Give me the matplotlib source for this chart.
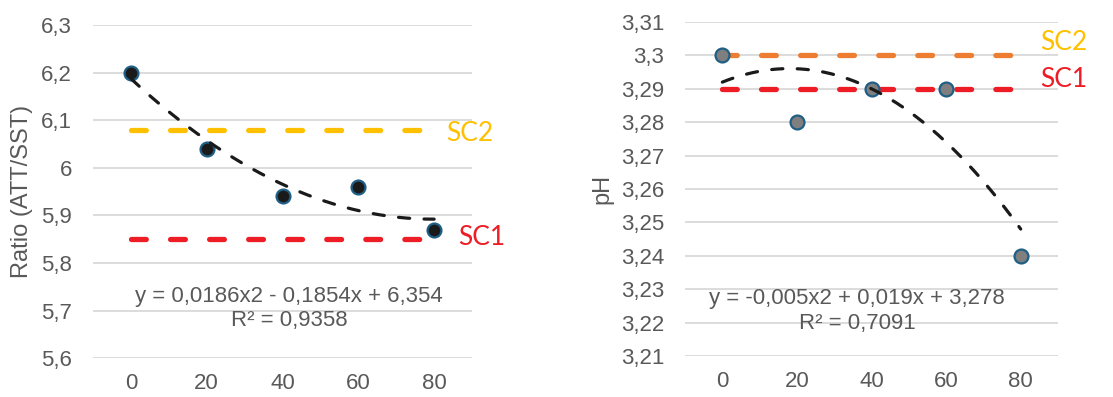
import numpy as np
import matplotlib
matplotlib.use("Agg")
import matplotlib.pyplot as plt
from matplotlib.ticker import FuncFormatter

plt.rcParams['font.family'] = ['Liberation Sans', 'DejaVu Sans']

days = [0, 20, 40, 60, 80]

ratio = [6.20, 6.04, 5.94, 5.96, 5.87]
ratio_fit = [0.0186, -0.1854, 6.354]
ratio_r2 = "0,9358"
ratio_sc1 = 5.85
ratio_sc2 = 6.08

ph = [3.30, 3.28, 3.29, 3.29, 3.24]
ph_fit = [-0.005, 0.019, 3.278]
ph_r2 = "0,7091"
ph_sc1 = 3.29
ph_sc2 = 3.30

GREY = "#595959"
GRID = "#D9D9D9"
RED = "#EE1C25"
YELLOW = "#FFC000"
ORANGE = "#ED7D31"
EDGE = "#1F5F86"


def comma(v, pos):
    s = f"{v:.2f}".rstrip("0").rstrip(".")
    return s.replace(".", ",")


def fmt_coef(c):
    return f"{c:g}".replace(".", ",")


def panel(ax, y, fit, r2, sc1, sc2, sc2_line, face, ylim, step, ylabel,
          label_x, eq_pos, sc_lab):
    ax.set_xlim(-10, 90)
    ax.set_ylim(*ylim)
    ax.set_yticks(np.arange(ylim[0], ylim[1] + step / 2, step))
    ax.set_xticks(days)
    ax.yaxis.set_major_formatter(FuncFormatter(comma))
    for s in ax.spines.values():
        s.set_visible(False)
    ax.grid(axis="y", color=GRID, lw=1.3)
    ax.set_axisbelow(True)
    ax.tick_params(length=0, labelsize=16, colors=GREY)
    ax.tick_params(axis="y", pad=15)
    ax.tick_params(axis="x", pad=11)
    ax.set_ylabel(ylabel, fontsize=17, color=GREY)
    ax.yaxis.set_label_coords(label_x, 0.5)

    # reference limits
    sc_style = dict(lw=3.8, dashes=(2.8, 4.6), dash_capstyle="round", zorder=2)
    ax.plot([days[0], days[-1]], [sc2, sc2], color=sc2_line, **sc_style)
    ax.plot([days[0], days[-1]], [sc1, sc1], color=RED, **sc_style)
    lab = dict(fontsize=19, family=['Lato', 'Liberation Sans'],
               va="center", ha="left", clip_on=False)
    (x2, y2), (x1, y1) = sc_lab
    ax.text(x2, y2, "SC2", color=YELLOW, **lab)
    ax.text(x1, y1, "SC1", color=RED, **lab)

    # polynomial trendline on category index 1..5
    xs = np.linspace(days[0], days[-1], 200)
    t = xs / 20 + 1
    ax.plot(xs, np.polyval(fit, t), color="#1A1A1A", lw=2.3, dashes=(3.5, 4.5),
            dash_capstyle="round", zorder=4)

    ax.plot(days, y, "o", ms=10, mfc=face, mec=EDGE, mew=1.6, zorder=3)

    a, b, c = fit
    eq = (f"y = {fmt_coef(a)}x2 {'+' if b >= 0 else '-'} {fmt_coef(abs(b))}x "
          f"{'+' if c >= 0 else '-'} {fmt_coef(abs(c))}\nR² = {r2}")
    ax.text(eq_pos[0], eq_pos[1], eq, ha="center", va="center", fontsize=16,
            color=GREY, linespacing=1.2, zorder=5)


fig = plt.figure(figsize=(11.13, 3.97), dpi=100)
ax1 = fig.add_axes([0.0836, 0.098, 0.3405, 0.839])
ax2 = fig.add_axes([0.6155, 0.1033, 0.3351, 0.8413])

panel(ax1, ratio, ratio_fit, ratio_r2, ratio_sc1, ratio_sc2, YELLOW, "#1A1A1A",
      (5.6, 6.3), 0.1, "Ratio (ATT/SST)", -0.158, (41.7, 5.704),
      ((83.2, 6.073), (86.3, 5.854)))
panel(ax2, ph, ph_fit, ph_r2, ph_sc1, ph_sc2, ORANGE, "#7F7F7F",
      (3.21, 3.31), 0.01, "pH", -0.193, (36.1, 3.2235),
      ((85.1, 3.3039), (85.1, 3.2927)))

fig.savefig("out.png", dpi=100)
